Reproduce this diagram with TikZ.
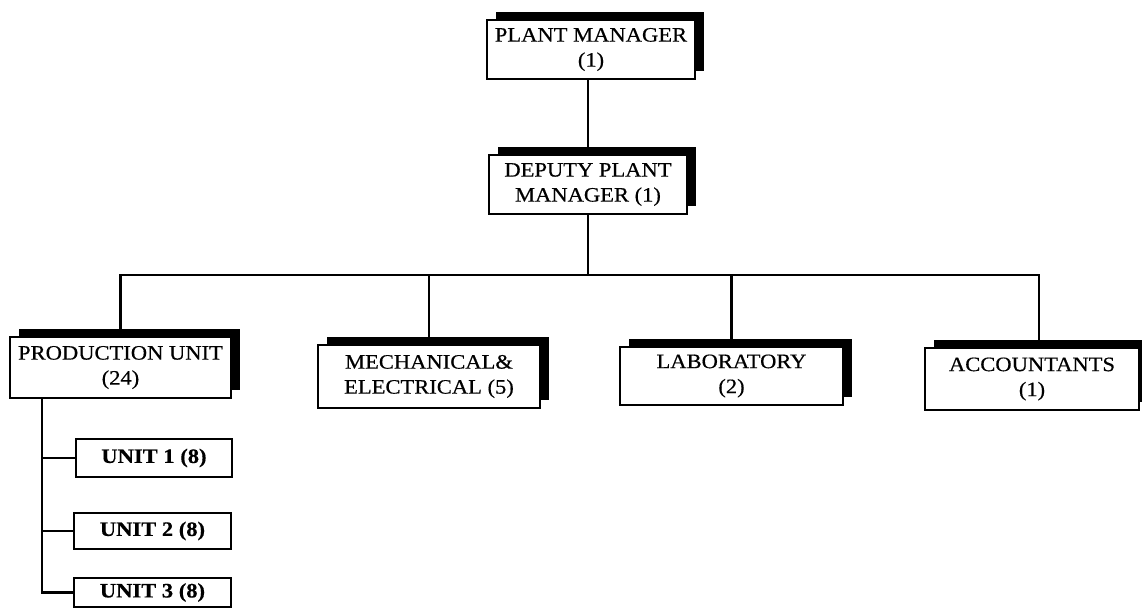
\documentclass[tikz,border=0pt]{standalone}
\usepackage{fontspec}
\setmainfont{Liberation Serif}[FakeStretch=1.1,FakeBold=0.5]
\usetikzlibrary{shadows}
\begin{document}
\begin{tikzpicture}[x=1pt,y=-1pt,
  box/.style={draw, line width=1.8pt, fill=white, align=center, inner sep=0pt,
    font=\fontsize{20.5}{25}\selectfont,
    general shadow={fill=black, shadow xshift=9pt, shadow yshift=8pt}},
  ubox/.style={draw, line width=1.8pt, fill=white, inner sep=0pt,
    font=\fontsize{20.5}{25}\selectfont\bfseries},
  link/.style={line width=2.2pt}]
\useasboundingbox (0,0) rectangle (1142,609);
\fill[white] (0,0) rectangle (1142,609);
% top
\node[box, minimum width=208pt, minimum height=59pt] (pm) at (591,49.5) {PLANT MANAGER\\(1)};
\node[box, minimum width=198pt, minimum height=59pt] (dpm) at (588,184.5) {DEPUTY PLANT\\MANAGER (1)};
% departments
\node[box, minimum width=221pt, minimum height=61pt] (prod) at (120.5,367.5) {PRODUCTION UNIT\\(24)};
\node[box, minimum width=222pt, minimum height=63pt] (mech) at (429,376.5) {MECHANICAL\&\\ELECTRICAL (5)};
\node[box, minimum width=223pt, minimum height=58pt] (lab) at (731.5,376) {LABORATORY\\(2)};
\node[box, minimum width=214pt, minimum height=62pt] (acc) at (1032,379) {ACCOUNTANTS\\(1)};
% units
\node[ubox, minimum width=156pt, minimum height=38pt] (u1) at (154,458) {UNIT 1 (8)};
\node[ubox, minimum width=157pt, minimum height=36pt] (u2) at (152.5,531) {UNIT 2 (8)};
\node[ubox, minimum width=157pt, minimum height=29pt] (u3) at (152.5,592.5) {UNIT 3 (8)};
% connectors
\coordinate (bus) at (588,275);
\draw[link] (dpm.north) -- (dpm.north |- pm.south);
\draw[link] (dpm.south) -- (bus);
\coordinate (accdrop) at ([xshift=7pt]acc.north);
\draw[link] (prod.north) |- (accdrop |- bus) -- (accdrop);
\draw[link] (mech.north |- bus) -- (mech.north);
\draw[link] (lab.north |- bus) -- (lab.north);
\coordinate (pl) at ([xshift=33pt]prod.south west);
\draw[link] (pl) |- (u3.west);
\draw[link] (pl |- u1.west) -- (u1.west);
\draw[link] (pl |- u2.west) -- (u2.west);
\end{tikzpicture}
\end{document}
